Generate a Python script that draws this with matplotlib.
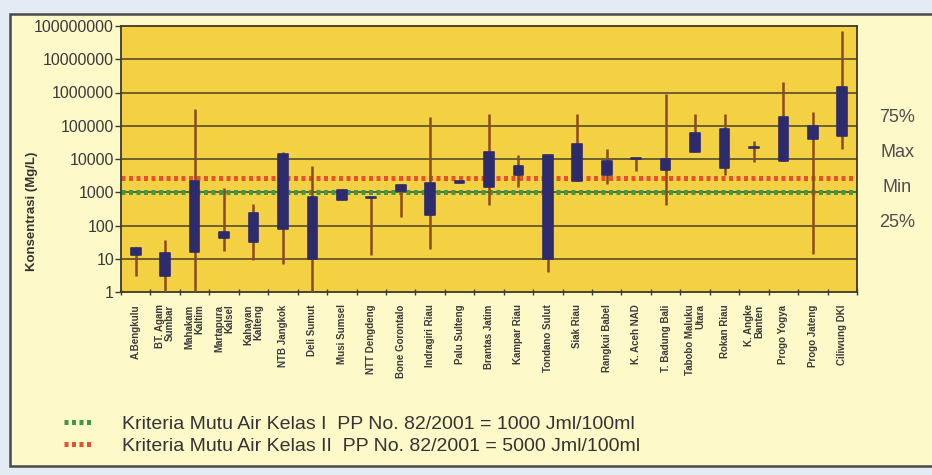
import matplotlib
matplotlib.use("Agg")
import matplotlib.pyplot as plt
from matplotlib.patches import Rectangle
from matplotlib.ticker import FixedLocator
import numpy as np

categories = ["A.Bengkulu", "BT. Agam\nSumbar", "Mahakam\nKaltim", "Martapura\nKalsel",
              "Kahayan\nKalteng", "NTB Jangkok", "Deli Sumut", "Musi Sumsel", "NTT Dengdeng",
              "Bone Gorontalo", "Indragiri Riau", "Palu Sulteng", "Brantas Jatim", "Kampar Riau",
              "Tondano Sulut", "Siak Riau", "Rangkui Babel", "K. Aceh NAD", "T. Badung Bali",
              "Tabobo Maluku\nUtara", "Rokan Riau", "K. Angke\nBanten", "Progo Yogya",
              "Progo Jateng", "Ciliwung DKI"]
val_max = [22, 37, 316000, 1350, 447, 16600, 6000, 1250, 710, 1800, 178000, 2250, 220000,
           13000, 13000, 220000, 20000, 10700, 930000, 220000, 220000, 35000, 2000000,
           260000, 70000000]
val_q3 = [21, 15, 2140, 62, 234, 14000, 710, 1200, 720, 1660, 1860, 2200, 16000, 6300,
          13000, 28000, 8900, 10700, 10000, 60000, 80000, 23000, 180000, 95000, 1500000]
val_q1 = [12.6, 3, 16, 42, 31, 76, 9.5, 600, 690, 1070, 200, 1900, 1400, 3200, 10, 2200,
          3200, 9800, 4800, 16600, 5200, 21000, 8900, 40000, 50000]
val_min = [3, 1, 1, 17, 9, 7, 1, 580, 12.6, 178, 19, 1850, 420, 1400, 4, 2200, 1800, 4500,
           400, 16600, 3200, 8000, 8900, 14, 20000]
crit_values = [1000, 2700]
crit_labels = ["Kriteria Mutu Air Kelas I  PP No. 82/2001 = 1000 Jml/100ml",
               "Kriteria Mutu Air Kelas II  PP No. 82/2001 = 5000 Jml/100ml"]
ytick_vals = [1, 10, 100, 1000, 10000, 100000, 1000000, 10000000, 100000000]
ytick_labels = ["1", "10", "100", "1000", "10000", "100000", "1000000", "10000000", "100000000"]
side_labels = ["75%", "Max", "Min", "25%"]

NARROW = ["Liberation Sans Narrow", "Liberation Sans", "DejaVu Sans"]
plt.rcParams['font.family'] = ["Liberation Sans", "DejaVu Sans"]

W, H = 932, 475
fig = plt.figure(figsize=(W / 100, H / 100), dpi=100, facecolor="#E3EBF4")

def fx(px):
    return px / W

def fy(py):
    return 1 - py / H

frame = Rectangle((fx(10), fy(466)), fx(945) - fx(10), fy(14) - fy(466),
                  transform=fig.transFigure, facecolor="#FEF9C8", edgecolor="#4A4A48",
                  lw=1.8, zorder=0)
fig.add_artist(frame)

ax = fig.add_axes([fx(121), fy(292), fx(857) - fx(121), fy(26) - fy(292)])
ax.set_facecolor("#F4D143")
ax.set_yscale("log")
ax.set_ylim(1, 1e8)
n = len(categories)
x = np.arange(n)
ax.set_xlim(-0.5, n - 0.5)

for v in ytick_vals[1:-1]:
    ax.axhline(v, color="#4A4228", lw=1.1, zorder=1)

green = ax.axhline(crit_values[0], color="#3E9A48", lw=3.6, dashes=(0.8, 0.7), zorder=2)
red = ax.axhline(crit_values[1], color="#E8512E", lw=3.6, dashes=(0.8, 0.7), zorder=2)

ax.vlines(x, val_min, val_max, color="#8A4A1C", lw=1.8, zorder=3)
q1 = np.array(val_q1, dtype=float)
q3 = np.array(val_q3, dtype=float)
ax.bar(x, q3 - q1, bottom=q1, width=0.33, color="#2E2B6C", edgecolor="#2E2B6C",
       lw=1.2, joinstyle="round", zorder=4)

for s in ax.spines.values():
    s.set_color("#3C3A28")
    s.set_linewidth(1.3)

ax.yaxis.set_major_locator(FixedLocator(ytick_vals))
ax.set_yticklabels(ytick_labels, fontsize=11.5, color="#3A3A3A")
ax.yaxis.set_minor_locator(FixedLocator([]))
ax.tick_params(axis="y", which="major", length=4, width=1, color="#3C3A28", pad=1)

ax.set_xticks(x)
ax.set_xticklabels(categories, rotation=90, fontsize=7, fontweight="bold",
                   color="#3A3A3A", va="top", ha="center", multialignment="right",
                   family=NARROW, linespacing=1.0)
ax.tick_params(axis="x", which="major", length=0, pad=9)
ax.xaxis.set_minor_locator(FixedLocator(np.arange(-0.5, n, 1.0)))
ax.tick_params(axis="x", which="minor", length=5, width=1, direction="inout",
               color="#3C3A28")

fig.text(fx(32), fy(211), "Konsentrasi (Mg/L)", rotation=90, ha="center", va="center",
         fontsize=9.5, fontweight="bold", color="#333333")

for lab, py in zip(side_labels, [118, 153, 188, 223]):
    fig.text(fx(897), fy(py), lab, ha="center", va="center", fontsize=13,
             color="#4E4E4E")

fig.legend(handles=[green, red], labels=crit_labels, loc="center left",
           bbox_to_anchor=(fx(46), fy(435)), frameon=False, fontsize=14,
           handlelength=1.4, handletextpad=1.6, labelspacing=0.2, labelcolor="#333333")

fig.savefig("out.png", dpi=100, facecolor=fig.get_facecolor())
